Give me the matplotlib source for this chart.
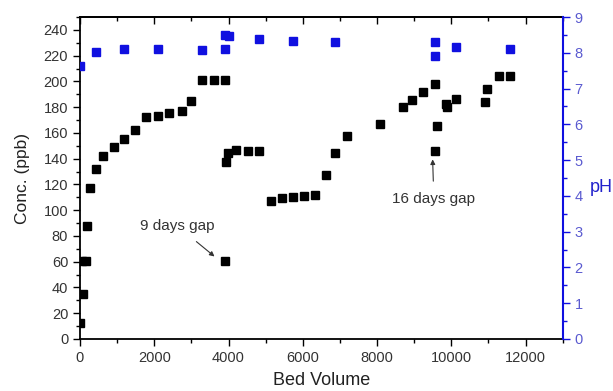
import matplotlib
matplotlib.use('Agg')
from matplotlib import pyplot as plt
from matplotlib.ticker import MultipleLocator

plt.rcParams['font.family'] = ['Liberation Sans', 'DejaVu Sans']

## concentration data (bed volume, ppb)
bv_conc = [0, 72, 50, 150, 197, 269, 440, 628, 915, 1194, 1472, 1768, 2100, 2387,
           2738, 2997, 3275, 3599, 3912, 3930, 3993, 4208, 4523, 4819, 3912,
           5133, 5430, 5734, 6030, 6326, 6623, 6865, 7179, 8076, 8687, 8937,
           9242, 9557, 9602, 9557, 9844, 9888, 10122, 10903, 10965, 11272, 11576]
conc = [12.2, 35.2, 60.8, 60.8, 88, 117.5, 132, 142.4, 148.9, 155.1, 162.1, 172.2,
        173.2, 175.3, 177.3, 184.9, 201.2, 201.2, 201.2, 137.5, 144.5, 147, 145.8,
        146, 60.8, 107.4, 109.5, 110, 111.3, 111.8, 127.1, 144.5, 157.9, 166.8,
        180.4, 185.9, 191.6, 197.8, 165.4, 146.3, 182.5, 179.9, 186.6, 184.3,
        194.2, 204.5, 204.3]

## pH data
bv_ph = [0, 440, 1194, 2100, 3275, 3912, 4000, 3912, 4819, 5734, 6865, 9557,
         9557, 10122, 11576]
ph = [7.64, 8.02, 8.10, 8.10, 8.07, 8.50, 8.47, 8.10, 8.39, 8.34, 8.30, 8.30,
      7.90, 8.15, 8.10]

blue = '#1010e0'
tick_gray = '#333333'

fig = plt.figure(figsize=(6.13, 3.91), dpi=100)
ax = fig.add_axes([0.1305, 0.133, 0.7875, 0.8235])
ax2 = ax.twinx()

ax.plot(bv_conc, conc, 's', color='black', ms=5.2, zorder=3)
ax2.plot(bv_ph, ph, 's', color=blue, ms=5.2, zorder=3)

ax.set_xlim(0, 13000)
ax.set_ylim(0, 250)
ax2.set_ylim(0, 9)

ax.set_xticks([0, 2000, 4000, 6000, 8000, 10000, 12000])
ax.xaxis.set_minor_locator(MultipleLocator(1000))
ax.set_yticks(range(0, 241, 20))
ax.yaxis.set_minor_locator(MultipleLocator(10))
ax2.yaxis.set_major_locator(MultipleLocator(1))
ax2.yaxis.set_minor_locator(MultipleLocator(0.5))

ax.tick_params(axis='both', which='major', direction='out', length=5, width=1,
               labelsize=10.5, labelcolor=tick_gray)
ax.tick_params(axis='both', which='minor', direction='out', length=3, width=1)
ax2.tick_params(axis='y', which='major', direction='out', length=5, width=1,
                color=blue, labelsize=10.5, labelcolor='#5a5ad0')
ax2.tick_params(axis='y', which='minor', direction='out', length=3, width=1,
                color=blue)

# top axis: inward ticks, no labels
top = ax.secondary_xaxis('top')
top.set_xticks([0, 2000, 4000, 6000, 8000, 10000, 12000])
top.xaxis.set_minor_locator(MultipleLocator(1000))
top.tick_params(which='major', direction='in', length=5, width=1, labeltop=False)
top.tick_params(which='minor', direction='in', length=3, width=1)
top.spines['top'].set_linewidth(1.3)

for s in ['left', 'bottom', 'top']:
    ax.spines[s].set_linewidth(1.3)
ax2.spines['right'].set_color(blue)
ax2.spines['right'].set_linewidth(1.5)
for s in ['left', 'bottom', 'top']:
    ax2.spines[s].set_visible(False)
ax.spines['right'].set_visible(False)

ax.set_xlabel('Bed Volume', fontsize=13, color='#222222', labelpad=5)
ax.set_ylabel('Conc. (ppb)', fontsize=12.5, color='#222222', labelpad=10)
ax2.set_ylabel('pH', fontsize=13, color='#2222cc', rotation=0, va='center')
ax2.yaxis.set_label_coords(1.08, 0.47)

## annotations
ax.annotate('9 days gap', xy=(3680, 62.7), xytext=(2611, 88), fontsize=11,
            color='#333333', ha='center', va='center',
            arrowprops=dict(arrowstyle='-|>', color='#333333', lw=0.8,
                            mutation_scale=7, shrinkA=7, shrinkB=2))
ax.annotate('16 days gap', xy=(9494, 141.6), xytext=(9530, 108.5), fontsize=11,
            color='#333333', ha='center', va='center',
            arrowprops=dict(arrowstyle='-|>', color='#333333', lw=0.8,
                            mutation_scale=7, shrinkA=6, shrinkB=2))

fig.savefig('out.png', dpi=100)
